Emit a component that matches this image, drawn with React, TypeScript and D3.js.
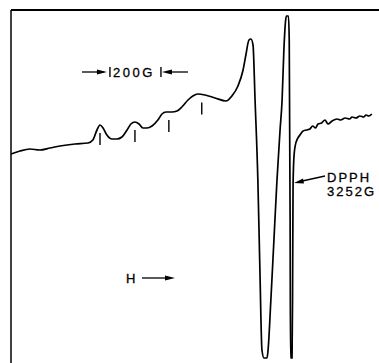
import React from 'react';
import * as d3 from 'd3';

// magnetic field (G) and derivative signal (arbitrary units)
const fieldG = [
  2162, 2197, 2236, 2275, 2315, 2354, 2413, 2464, 2483, 2499, 2511, 2523, 2538, 2558,
  2577, 2597, 2617, 2632, 2648, 2664, 2679, 2695, 2715, 2738, 2754, 2770, 2793, 2813,
  2832, 2856, 2875, 2895, 2923, 2962, 3005, 3028, 3052, 3072, 3083, 3095, 3103, 3111,
  3119, 3130, 3138, 3146, 3154, 3166, 3170, 3181, 3193, 3205, 3217, 3225, 3232, 3239,
  3242, 3250, 3253, 3256.5, 3258, 3264, 3266, 3268, 3272, 3280, 3295, 3307, 3320, 3334,
  3345, 3356, 3366, 3380, 3393, 3405, 3421, 3440, 3455, 3472, 3490, 3499, 3515, 3530,
  3545, 3554, 3565, 3577
];
const signal = [
  46, 49, 51, 50, 52, 54, 56, 57, 60, 70, 75, 72, 65, 61,
  61, 63, 70, 76, 78, 76, 72, 72, 74, 80, 86, 88, 88, 89,
  93, 100, 104, 106, 105, 102, 99, 104, 114, 130, 145, 160, 161, 155,
  100, 20, -70, -150, -158, -158, -150, -100, -40, 20, 70, 100, 150, 180,
  184, 184, 160, -20, -158, -158, -100, 15, 45, 58, 65, 69, 70, 71,
  74, 72, 76, 77, 80, 76, 79, 81, 80, 82, 81, 83, 82, 84,
  83, 85, 84, 86
];

// hyperfine line positions marked under the trace
const hyperfineG = [2511, 2648, 2781, 2910];

const dpphLabel = ['DPPH', '3252G'];
const scaleLabel = '200G';
const scaleStartG = 2550;
const scaleWidthG = 200;

export default function App() {
  const width = 379, height = 363;
  const x = d3.scaleLinear().domain([2162, 3605]).range([11, 379]);
  const y = d3.scaleLinear().domain([-160, 190]).range([360, 10]);

  const pts = fieldG.map((g, i) => [g, signal[i]] as [number, number]);
  const line = d3.line<[number, number]>()
    .x(d => x(d[0]))
    .y(d => y(d[1]))
    .curve(d3.curveMonotoneX);

  const interp = (g: number) => {
    const i = d3.bisectLeft(fieldG, g);
    const g0 = fieldG[i - 1], g1 = fieldG[i];
    const t = (g - g0) / (g1 - g0);
    return signal[i - 1] + t * (signal[i] - signal[i - 1]);
  };

  const font = {
    fontFamily: '"Liberation Sans", Arial, sans-serif', fontSize: 13,
    stroke: '#000', strokeWidth: 0.3
  };
  const xa = x(scaleStartG), xb = x(scaleStartG + scaleWidthG);

  return (
    <svg width={width} height={height}
      style={{ position: 'absolute', left: 0, top: 0, background: '#fff' }}>
      {/* frame */}
      <line x1={11} y1={10} x2={379} y2={10} stroke="#000" strokeWidth={2} />
      <line x1={11} y1={10} x2={11} y2={363} stroke="#000" strokeWidth={1.5} />

      {/* spectrum */}
      <path d={line(pts) || ''} fill="none" stroke="#000" strokeWidth={1.7}
        strokeLinejoin="round" />

      {/* hyperfine markers */}
      {hyperfineG.map((g, i) => {
        const yc = y(interp(g));
        return <line key={i} x1={x(g)} x2={x(g)} y1={yc + 8} y2={yc + 20}
          stroke="#000" strokeWidth={1.4} />;
      })}

      {/* 200 G scale bar */}
      <g stroke="#000" fill="#000">
        <line x1={xa - 28} x2={xa - 6} y1={72} y2={72} strokeWidth={1.3} />
        <path d={`M${xa - 13},69.5L${xa - 3},72L${xa - 13},74.5Z`} stroke="none" />
        <line x1={xa} x2={xa} y1={67} y2={77} strokeWidth={1.4} />
        <line x1={xb} x2={xb} y1={67} y2={77} strokeWidth={1.4} />
        <path d={`M${xb + 11},69.5L${xb + 1},72L${xb + 11},74.5Z`} stroke="none" />
        <line x1={xb + 8} x2={xb + 27} y1={72} y2={72} strokeWidth={1.3} />
      </g>
      <text x={xa + 3} y={77} style={font} letterSpacing={2.5}>{scaleLabel}</text>

      {/* DPPH label */}
      <g stroke="#000" fill="#000">
        <line x1={325} y1={176} x2={300} y2={181.5} strokeWidth={1.3} />
        <path d="M294,183L303,178.5L304,183.5Z" stroke="none" />
      </g>
      {dpphLabel.map((t, i) => (
        <text key={t} x={327} y={182 + i * 14} style={font} letterSpacing={2}>{t}</text>
      ))}

      {/* field direction */}
      <text x={126} y={283} style={font}>H</text>
      <g stroke="#000" fill="#000">
        <line x1={142} x2={168} y1={278} y2={278} strokeWidth={1.3} />
        <path d="M165,275.5L175,278L165,280.5Z" stroke="none" />
      </g>
    </svg>
  );
}
